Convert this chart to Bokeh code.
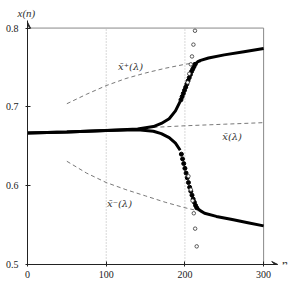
from bokeh.plotting import figure
from bokeh.models import Range1d, Label, Arrow, VeeHead, FixedTicker
from bokeh.embed import file_html
from bokeh.resources import INLINE

# ---- data ----
upper_n = [0, 50, 100, 140, 160, 170, 180, 188, 194]
upper_v = [0.667, 0.668, 0.670, 0.672, 0.675, 0.679, 0.685, 0.695, 0.707]
upper_dots_n = [195, 196.5, 198, 199.5, 201, 202.5, 204, 205.5, 207, 208.5, 210, 211.5, 213]
upper_dots_v = [0.709, 0.713, 0.717, 0.721, 0.725, 0.729, 0.733, 0.737, 0.741, 0.745, 0.748, 0.751, 0.754]
upper_after_n = [213, 216, 220, 230, 250, 275, 300]
upper_after_v = [0.754, 0.757, 0.759, 0.762, 0.766, 0.770, 0.774]

lower_n = [0, 50, 100, 140, 160, 170, 180, 188, 194]
lower_v = [0.667, 0.668, 0.670, 0.671, 0.669, 0.666, 0.661, 0.654, 0.645]
lower_dots_n = [195.5, 197, 198.5, 200, 201.5, 203, 204.5, 206, 207.5, 209, 210.5, 212, 213.5, 215]
lower_dots_v = [0.640, 0.634, 0.628, 0.622, 0.616, 0.610, 0.604, 0.598, 0.593, 0.588, 0.583, 0.579, 0.575, 0.572]
lower_after_n = [215, 220, 225, 240, 260, 280, 300]
lower_after_v = [0.572, 0.568, 0.565, 0.561, 0.557, 0.553, 0.549]

open_n = [203.5, 205.5, 207.5, 209, 210.8, 212.8, 204.5, 207.5, 209.7, 211.3, 213, 215]
open_v = [0.731, 0.742, 0.754, 0.764, 0.779, 0.7966, 0.612, 0.595, 0.581, 0.565, 0.5455, 0.523]

xplus_n = [50, 75, 100, 125, 150, 175, 200, 220]
xplus_v = [0.704, 0.716, 0.727, 0.736, 0.743, 0.749, 0.754, 0.757]
xminus_n = [50, 75, 100, 125, 150, 175, 200, 222]
xminus_v = [0.631, 0.616, 0.604, 0.595, 0.587, 0.579, 0.572, 0.567]
xbar_n = [160, 200, 250, 300]
xbar_v = [0.674, 0.676, 0.678, 0.680]

x_ticks = [0, 100, 200, 300]
y_ticks = [0.5, 0.6, 0.7, 0.8]
grid_ticks = [100, 200]

SERIF = "Liberation Serif"
MATH = "DejaVu Serif"
AX = "#222222"

p = figure(width=292, height=284, output_backend="svg", toolbar_location=None,
           x_range=Range1d(0, 336.7), y_range=Range1d(0.5, 0.8096),
           min_border_left=27, min_border_right=0, min_border_top=20, min_border_bottom=20)
p.outline_line_color = None
p.background_fill_color = "white"
p.border_fill_color = "white"

# y-axis name shown above the axis
p.title.text = "x(n)"
p.title.align = "left"
p.title.offset = -10
p.title.standoff = 3
p.title.text_font = SERIF
p.title.text_font_size = "11px"
p.title.text_font_style = "italic"
p.title.text_color = "#333333"

p.xaxis.ticker = FixedTicker(ticks=x_ticks)
p.yaxis.ticker = FixedTicker(ticks=y_ticks)
for ax in (p.xaxis[0], p.yaxis[0]):
    ax.axis_line_color = AX
    ax.major_tick_line_color = AX
    ax.major_tick_in = 3
    ax.major_tick_out = 2
    ax.minor_tick_line_color = None
    ax.major_label_text_font = SERIF
    ax.major_label_text_font_size = "10px"
    ax.major_label_text_color = AX
p.xaxis.bounds = (x_ticks[0], 318)
p.xaxis.major_label_standoff = 4
p.yaxis.major_label_standoff = 7
p.yaxis.formatter.use_scientific = False

p.xgrid.grid_line_color = None
p.ygrid.grid_line_color = None

# plot box (top / right frame) and dotted guides at n = 100, 200
p.line([x_ticks[0], x_ticks[-1], x_ticks[-1]], [y_ticks[-1], y_ticks[-1], y_ticks[0]],
       line_color="#888888", line_width=1)
p.segment(x0=grid_ticks, y0=[y_ticks[0]] * len(grid_ticks), x1=grid_ticks, y1=[y_ticks[-1]] * len(grid_ticks),
          line_color="#b0b0b0", line_dash="1 2", line_width=1)

# dashed equilibrium branches
for xs, ys in ((xplus_n, xplus_v), (xminus_n, xminus_v), (xbar_n, xbar_v)):
    p.line(xs, ys, line_color="#555555", line_width=0.8, line_dash="4 3")

# trajectories
p.line(upper_n, upper_v, line_color="black", line_width=3)
p.line(lower_n, lower_v, line_color="black", line_width=3)
p.line(upper_after_n, upper_after_v, line_color="black", line_width=3)
p.line(lower_after_n, lower_after_v, line_color="black", line_width=3)
p.scatter(upper_dots_n, upper_dots_v, size=4, color="black")
p.scatter(lower_dots_n, lower_dots_v, size=4, color="black")
p.scatter(open_n, open_v, size=3.5, fill_color="white", line_color="#333333", line_width=0.8)

# labels
lab = dict(text_font=MATH, text_font_size="10px", text_color="#333333",
           text_align="center", text_baseline="middle", text_font_style="italic")
p.add_layout(Label(x=131, y=0.751, text="x\u0304\u207a(\u03bb)", **lab))
p.add_layout(Label(x=260, y=0.662, text="x\u0304(\u03bb)", **lab))
p.add_layout(Label(x=117, y=0.577, text="x\u0304\u207b(\u03bb)", **lab))
lab_n = dict(lab, text_font=SERIF, text_font_size="12px")
p.add_layout(Label(x=327, y=0.5, y_offset=1, text="n", **lab_n))

# axis arrows
p.add_layout(Arrow(x_start=0, y_start=0.8, x_end=0, y_end=0.8075, line_color=AX, line_width=1,
                   end=VeeHead(size=6, line_color=AX, fill_color=AX, line_width=1)))
p.add_layout(Arrow(x_start=300, y_start=0.5, x_end=318, y_end=0.5, line_color=AX, line_width=1,
                   end=VeeHead(size=6, line_color=AX, fill_color=AX, line_width=1)))

open("out.html", "w").write(file_html(p, INLINE))
